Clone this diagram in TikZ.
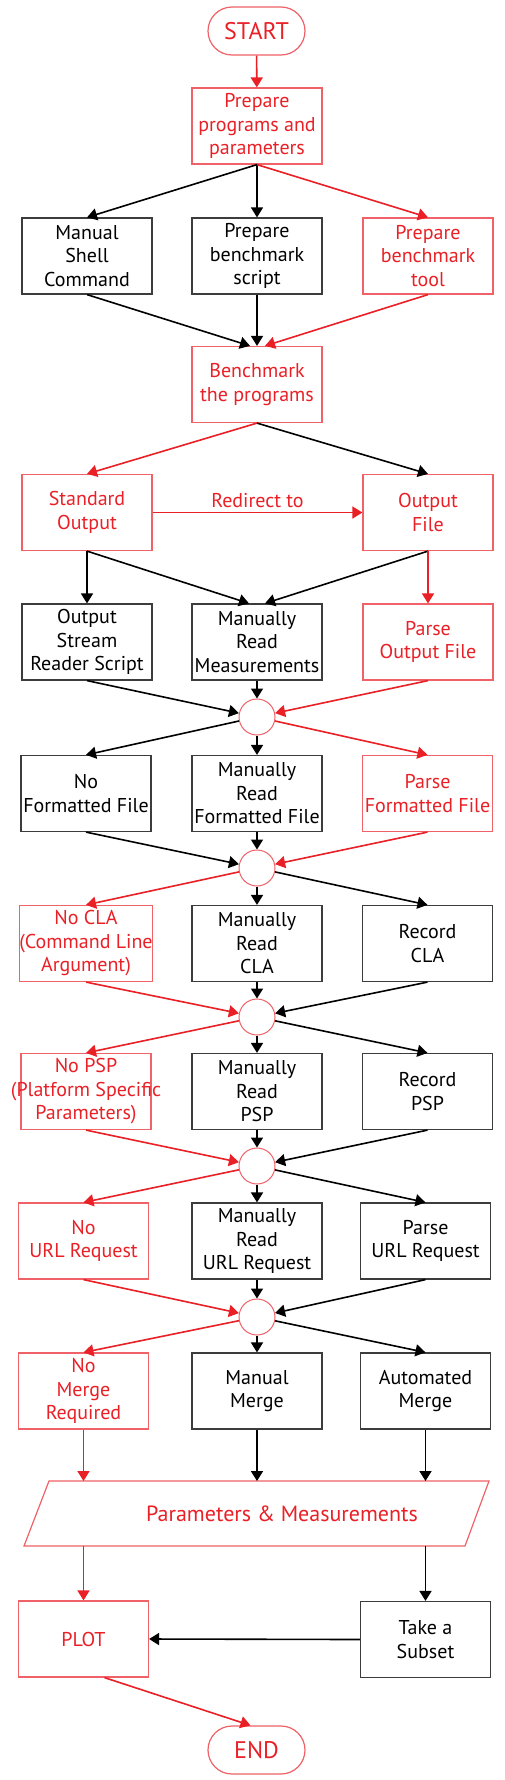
\documentclass[tikz,border=0pt]{standalone}
\usepackage{fontspec}
\setmainfont{PT Sans}
\usetikzlibrary{arrows.meta}
\definecolor{lnred}{RGB}{234,32,39}
\definecolor{bxred}{RGB}{240,98,104}
\definecolor{txred}{RGB}{234,32,39}
\definecolor{bxgray}{RGB}{60,60,60}
\begin{document}
\begin{tikzpicture}[x=1pt,y=-1pt,
  boxbase/.style={minimum width=130pt, minimum height=76pt, inner sep=0pt, align=center, line width=1.2pt, font=\fontsize{20}{23.5}\selectfont},
  rbox/.style={boxbase, draw=bxred, text=txred},
  kbox/.style={boxbase, draw=bxgray, text=black},
  jcirc/.style={circle, draw=bxred, line width=1pt, minimum size=36pt, inner sep=0pt},
  term/.style={draw=bxred, text=txred, line width=1.2pt, rounded corners=24pt, minimum width=97pt, minimum height=48pt, inner sep=0pt, font=\fontsize{24}{28}\selectfont},
  ra/.style={lnred, line width=1.6pt, -{Triangle[length=10pt,width=12pt]}},
  ka/.style={black, line width=1.6pt, -{Triangle[length=10pt,width=12pt]}},
]
\fill[white] (0,0) rectangle (504,1780);
\useasboundingbox (0,0) rectangle (504,1780);

% terminals and top
\node[term] (start) at (256.5,31) {START};
\node[rbox] (prep) at (257,126) {Prepare\\programs and\\parameters};
\node[kbox] (mshell) at (87,256) {Manual\\Shell\\Command};
\node[kbox] (pscript) at (257,256) {Prepare\\benchmark\\script};
\node[rbox] (ptool) at (428,256) {Prepare\\benchmark\\tool};
\node[rbox] (bench) at (257,384.5) {Benchmark\\the programs};
\node[rbox] (stdout) at (87,512.5) {Standard\\Output};
\node[rbox] (outfile) at (428,512.5) {Output\\File};
% row 3
\node[kbox] (osr) at (87,642) {Output\\Stream\\Reader Script};
\node[kbox] (mrm) at (257,642) {Manually\\Read\\Measurements};
\node[rbox] (pof) at (428,642) {Parse\\Output File};
\node[jcirc] (c1) at (257,717) {};
% row 4
\node[kbox] (nff) at (86,793.5) {No\\Formatted File};
\node[kbox] (mrff) at (257,793.5) {Manually\\Read\\Formatted File};
\node[rbox] (pff) at (427.5,793.5) {Parse\\Formatted File};
\node[jcirc] (c2) at (257,868) {};
% row 5
\node[rbox] (nocla) at (86,943.5) {No CLA\\(Command Line\\Argument)};
\node[kbox] (mrcla) at (257,943.5) {Manually\\Read\\CLA};
\node[kbox] (rcla) at (427.5,943.5) {Record\\CLA};
\node[jcirc] (c3) at (257,1017) {};
% row 6
\node[rbox] (nopsp) at (86,1091.5) {No PSP\\\makebox[0pt]{(Platform Specific}\\Parameters)};
\node[kbox] (mrpsp) at (257,1091.5) {Manually\\Read\\PSP};
\node[kbox] (rpsp) at (427.5,1091.5) {Record\\PSP};
\node[jcirc] (c4) at (257,1166) {};
% row 7
\node[rbox] (nourl) at (83.5,1241) {No\\URL Request};
\node[kbox] (mrurl) at (257,1241) {Manually\\Read\\URL Request};
\node[kbox] (purl) at (425.5,1241) {Parse\\URL Request};
\node[jcirc] (c5) at (257,1317) {};
% row 8
\node[rbox] (nomerge) at (83.5,1391) {No\\Merge\\Required};
\node[kbox] (mmerge) at (257,1391) {Manual\\Merge};
\node[kbox] (amerge) at (425.5,1391) {Automated\\Merge};
% parallelogram
\draw[bxred, line width=1.2pt] (49,1481) -- (489,1481) -- (465,1546) -- (24,1546) -- cycle;
\node[text=txred, font=\fontsize{22}{26}\selectfont] (param) at (282,1513.5) {Parameters \& Measurements};
\coordinate (ptop) at (257,1481);
\coordinate (pbot) at (257,1546);
% bottom
\node[rbox] (plot) at (83.5,1639) {PLOT};
\node[kbox] (subset) at (425.5,1639.5) {Take a\\Subset};
\node[term] (end) at (256.5,1750) {END};

% connectors
\draw[ra] (start) -- (prep);
\draw[ka] (prep.south) -- (mshell.north);
\draw[ka] (prep.south) -- (pscript.north);
\draw[ra] (prep.south) -- (ptool.north);
\draw[ka] (mshell.south) -- ([xshift=-7pt]bench.north);
\draw[ka] (pscript.south) -- (bench.north);
\draw[ra] (ptool.south) -- ([xshift=8pt]bench.north);
\draw[ra] (bench.south) -- (stdout.north);
\draw[ka] (bench.south) -- (outfile.north);
\draw[ra] (stdout.east) -- node[above=1pt, text=txred, font=\fontsize{20}{23.5}\selectfont] {Redirect to} (outfile.west);
\draw[ka] (stdout.south) -- (osr.north);
\draw[ka] (stdout.south) -- ([xshift=-8pt]mrm.north);
\draw[ka] (outfile.south) -- ([xshift=8pt]mrm.north);
\draw[ra] (outfile.south) -- (pof.north);
\draw[ka] (osr.south) -- (c1);
\draw[ka] (mrm.south) -- (c1);
\draw[ra] (pof.south) -- (c1);
\draw[ka] (c1) -- (nff.north);
\draw[ka] (c1) -- (mrff.north);
\draw[ra] (c1) -- (pff.north);
\draw[ka] (nff.south) -- (c2);
\draw[ka] (mrff.south) -- (c2);
\draw[ra] (pff.south) -- (c2);
\draw[ra] (c2) -- (nocla.north);
\draw[ka] (c2) -- (mrcla.north);
\draw[ka] (c2) -- (rcla.north);
\draw[ra] (nocla.south) -- (c3);
\draw[ka] (mrcla.south) -- (c3);
\draw[ka] (rcla.south) -- (c3);
\draw[ra] (c3) -- (nopsp.north);
\draw[ka] (c3) -- (mrpsp.north);
\draw[ka] (c3) -- (rpsp.north);
\draw[ra] (nopsp.south) -- (c4);
\draw[ka] (mrpsp.south) -- (c4);
\draw[ka] (rpsp.south) -- (c4);
\draw[ra] (c4) -- (nourl.north);
\draw[ka] (c4) -- (mrurl.north);
\draw[ka] (c4) -- (purl.north);
\draw[ra] (nourl.south) -- (c5);
\draw[ka] (mrurl.south) -- (c5);
\draw[ka] (purl.south) -- (c5);
\draw[ra] (c5) -- (nomerge.north);
\draw[ka] (c5) -- (mmerge.north);
\draw[ka] (c5) -- (amerge.north);
\draw[ra] (nomerge.south) -- (nomerge.south |- ptop);
\draw[ka] (mmerge.south) -- (mmerge.south |- ptop);
\draw[ka] (amerge.south) -- (amerge.south |- ptop);
\draw[ra] (plot.north |- pbot) -- (plot.north);
\draw[ka] (subset.north |- pbot) -- (subset.north);
\draw[ka] (subset.west) -- (plot.east);
\draw[ra] ([xshift=21pt]plot.south) -- ([xshift=-6pt]end.north);
\end{tikzpicture}
\end{document}
